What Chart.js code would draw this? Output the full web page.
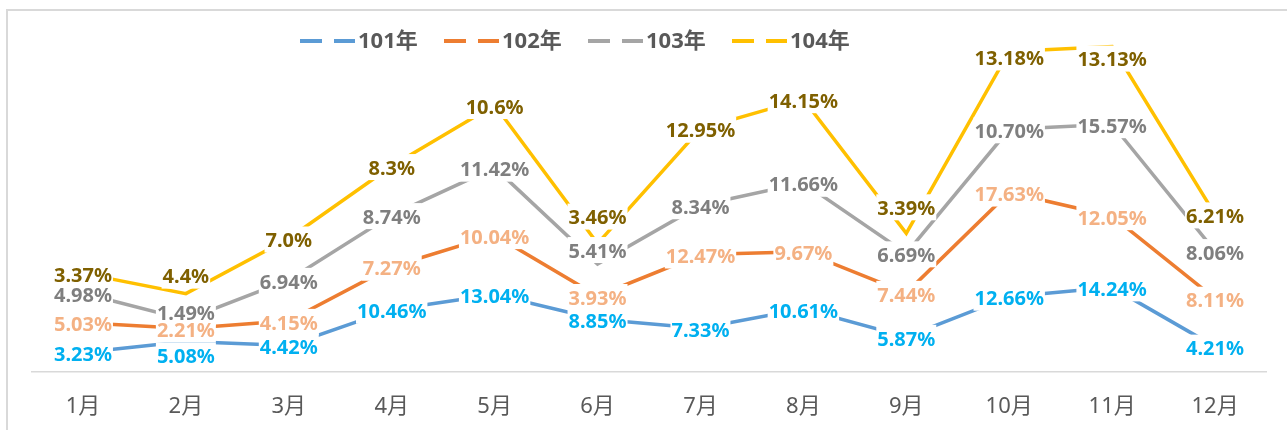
<!DOCTYPE html>
<html>
<head>
<meta charset="utf-8">
<script src="https://cdn.jsdelivr.net/npm/chart.js@4"></script>
<style>
html, body { margin: 0; padding: 0; background: #fff; }
#wrap { width: 1287px; height: 430px; position: relative; }
</style>
</head>
<body>
<div id="wrap"><canvas id="chart-rate"></canvas></div>
<script>

const months = ['1月', '2月', '3月', '4月', '5月', '6月', '7月', '8月', '9月', '10月', '11月', '12月'];
const years = ['101年', '102年', '103年', '104年'];

// values kept as printed on the picture (strings keep "7.0", "10.70")
const y101 = ['3.23', '5.08', '4.42', '10.46', '13.04', '8.85', '7.33', '10.61', '5.87', '12.66', '14.24', '4.21'];
const y102 = ['5.03', '2.21', '4.15', '7.27', '10.04', '3.93', '12.47', '9.67', '7.44', '17.63', '12.05', '8.11'];
const y103 = ['4.98', '1.49', '6.94', '8.74', '11.42', '5.41', '8.34', '11.66', '6.69', '10.70', '15.57', '8.06'];
const y104 = ['3.37', '4.4', '7.0', '8.3', '10.6', '3.46', '12.95', '14.15', '3.39', '13.18', '13.13', '6.21'];

const lineColors = ['#5b9bd5', '#ed7d31', '#a5a5a5', '#ffc000'];
const labelColors = ['#00b0f0', '#f4b183', '#7f7f7f', '#7f6000'];
const fontFamily = "'Noto Sans', 'Noto Sans CJK TC', sans-serif";

// labels moved by hand in the original ("series-month": px)
const labelShift = { '0-1': 13, '2-1': -8, '3-1': -19, '2-5': -15, '3-5': -28, '3-8': -27, '3-9': 5, '3-10': 11 };

const frame = {
    id: 'frame',
    beforeDraw(chart) {
        const ctx = chart.ctx;
        ctx.save();
        ctx.fillStyle = '#fff';
        ctx.fillRect(0, 0, chart.width, chart.height);
        ctx.strokeStyle = '#d9d9d9';
        ctx.lineWidth = 2;
        ctx.strokeRect(7, 10, chart.width + 20, chart.height + 20);
        ctx.restore();
    }
};

const pointLabels = {
    id: 'pointLabels',
    afterDatasetsDraw(chart) {
        const ctx = chart.ctx;
        ctx.save();
        ctx.font = 'bold 20px ' + fontFamily;
        ctx.textAlign = 'center';
        ctx.textBaseline = 'middle';
        const items = [];
        chart.data.datasets.forEach((ds, i) => {
            chart.getDatasetMeta(i).data.forEach((pt, j) => {
                const txt = ds.data[j] + '%';
                const y = pt.y + 2 + (labelShift[i + '-' + j] || 0);
                items.push({ txt, x: pt.x, y, c: labelColors[i], w: ctx.measureText(txt).width });
            });
        });
        // white label boxes hide the lines under the text, like the original
        ctx.fillStyle = '#fff';
        items.forEach(it => ctx.fillRect(it.x - it.w / 2 - 1, it.y - 14, it.w + 2, 26));
        items.forEach(it => {
            ctx.fillStyle = it.c;
            ctx.fillText(it.txt, it.x, it.y + 1);
        });
        ctx.restore();
    }
};

const legendLine = {
    id: 'legendLine',
    afterDraw(chart) {
        const ctx = chart.ctx;
        ctx.save();
        ctx.font = 'bold 22px ' + fontFamily;
        ctx.textBaseline = 'middle';
        ctx.lineWidth = 4;
        chart.data.datasets.forEach((ds, i) => {
            const x0 = 300 + i * 144;
            ctx.strokeStyle = ds.borderColor;
            ctx.beginPath();
            ctx.moveTo(x0, 41); ctx.lineTo(x0 + 22, 41);
            ctx.moveTo(x0 + 34, 41); ctx.lineTo(x0 + 55, 41);
            ctx.stroke();
            ctx.fillStyle = '#595959';
            ctx.fillText(ds.label, x0 + 58, 42);
        });
        ctx.restore();
    }
};

const configRate = new Chart(
    document.getElementById('chart-rate'), {
    type: 'line',
    data: {
        labels: months,
        datasets: [y101, y102, y103, y104].map((d, i) => ({
            label: years[i],
            data: d,
            borderColor: lineColors[i],
            backgroundColor: lineColors[i],
            borderWidth: 3.5,
            pointRadius: 0,
            tension: 0,
            fill: false,
            clip: false
        }))
    },
    options: {
        responsive: true,
        maintainAspectRatio: false,
        animation: false,
        layout: {
            padding: { left: 31.5, right: 20.5, top: 17, bottom: 0 }
        },
        plugins: {
            legend: { display: false },
            tooltip: { enabled: false }
        },
        scales: {
            x: {
                offset: true,
                grid: { display: false, drawTicks: false },
                border: { color: '#d9d9d9', width: 1.5 },
                ticks: {
                    color: '#595959',
                    padding: 22,
                    font: { size: 22, family: fontFamily }
                },
                afterFit(scale) {
                    scale.height = 58.5;
                }
            },
            y: {
                display: false,
                stacked: true,
                min: 0,
                max: 60
            }
        }
    },
    plugins: [frame, pointLabels, legendLine]
});
</script>
</body>
</html>
